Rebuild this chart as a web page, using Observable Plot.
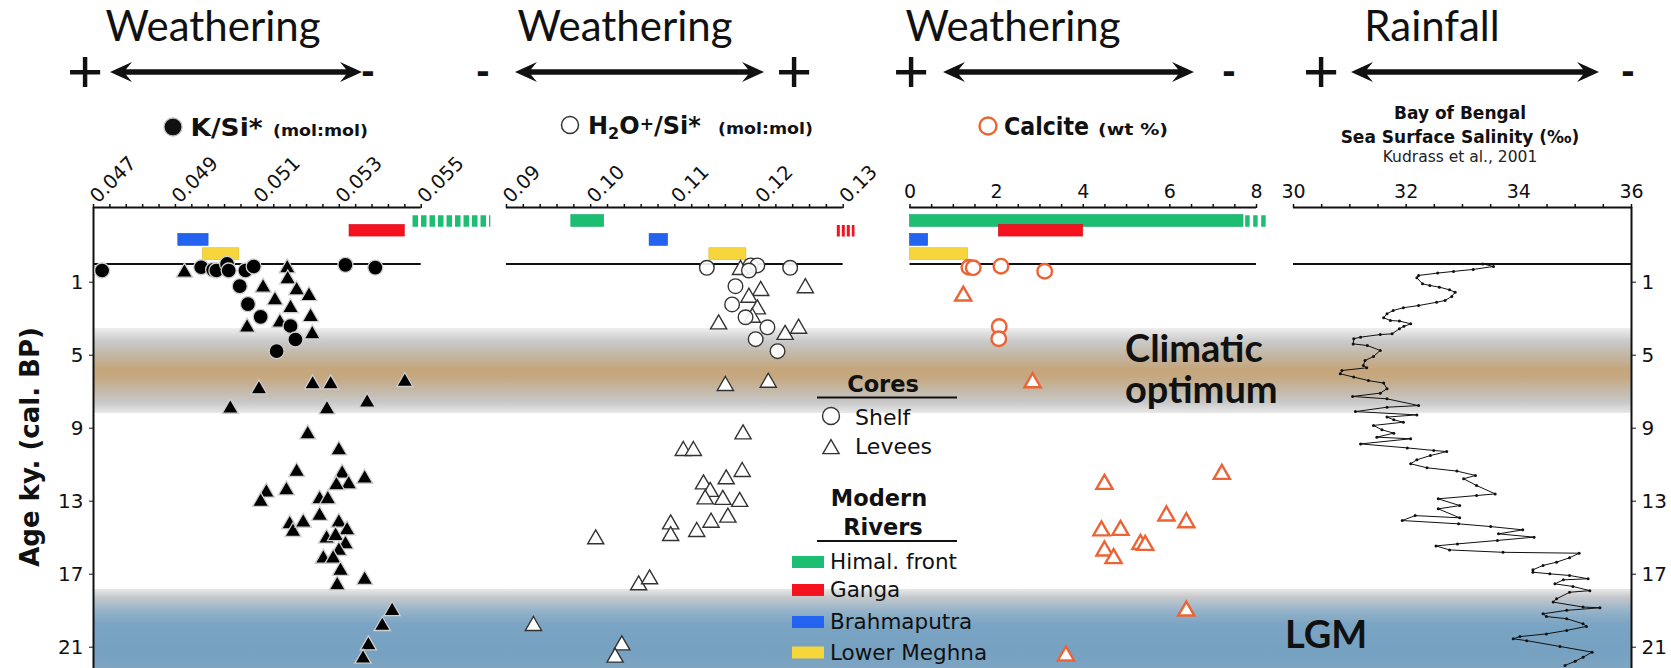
<!DOCTYPE html>
<html><head><meta charset="utf-8">
<script src="https://cdn.jsdelivr.net/npm/d3@7"></script>
<script src="https://cdn.jsdelivr.net/npm/@observablehq/plot@0.6"></script>
<style>
body{margin:0;background:#fff;}
#wrap{position:relative;width:1671px;height:668px;overflow:hidden;background:#fff;}
#wrap svg{position:absolute;left:0;top:0;overflow:visible;}
</style></head><body><div id="wrap"></div>
<script>
// ---------------- DATA ----------------
const ageTicks = [1, 5, 9, 13, 17, 21];

const rivers = ["Himal. front", "Ganga", "Brahmaputra", "Lower Meghna"];
const riverColors = ["#1cbf72", "#f5121f", "#2463ef", "#f7d63c"];

// K/Si* (mol:mol)
const kSiTicks = [0.047, 0.049, 0.051, 0.053, 0.055];
const kSiShelfAge = [0.36, 0.18, 0.32, 0.36, 0.0, 0.36, 0.36, 0.14, 0.05, 0.2, 1.22, 2.2, 2.9, 3.4, 4.14, 4.78];
const kSiShelfVal = [0.04721, 0.04963, 0.04992, 0.05000, 0.05026, 0.05030, 0.05071, 0.05091, 0.05315, 0.05388, 0.05057, 0.05077, 0.05108, 0.05181, 0.05193, 0.05147];
const kSiLeveeAge = [0.36, 0.12, 0.73, 1.18, 1.33, 1.64, 1.88, 2.31, 2.79, 3.1, 3.37, 3.74, 6.75, 6.48, 6.48, 6.35, 7.81, 7.85, 7.48, 9.22, 10.1, 11.28, 11.37, 11.65, 11.96, 12.01, 12.29, 12.41, 12.92, 12.78, 12.78, 13.69, 14.15, 14.57, 14.06, 14.06, 14.48, 14.93, 14.79, 15.25, 15.61, 16.03, 16.03, 16.7, 17.2, 17.49, 18.9, 19.72, 20.78, 21.51];
const kSiLeveeVal = [0.04922, 0.05173, 0.05174, 0.05114, 0.05196, 0.05226, 0.05143, 0.05181, 0.0523, 0.05155, 0.05075, 0.05234, 0.05104, 0.05235, 0.05279, 0.0546, 0.05034, 0.0527, 0.05368, 0.05223, 0.05299, 0.05196, 0.05307, 0.05362, 0.05323, 0.05293, 0.05171, 0.05122, 0.05108, 0.05252, 0.05272, 0.05252, 0.05179, 0.05187, 0.05212, 0.05299, 0.05319, 0.05269, 0.05291, 0.05315, 0.05299, 0.05261, 0.05285, 0.05303, 0.05362, 0.05295, 0.05429, 0.05405, 0.05371, 0.05358];
const kSiRiverLo = [null, 0.05325, 0.04907, 0.04967];
const kSiRiverHi = [null, 0.0546, 0.04981, 0.05056];
const kSiRiverOpenLo = [0.0548, null, null, null];   // range continuing off-scale
const kSiRiverOpenHi = [0.0567, null, null, null];

// H2O+/Si* (mol:mol)
const hSiTicks = [0.09, 0.10, 0.11, 0.12, 0.13];
const hSiShelfAge = [0.21, 0.08, 0.08, 0.36, 0.21, 1.22, 2.22, 2.92, 3.47, 4.12, 4.78];
const hSiShelfVal = [0.1138, 0.1190, 0.1198, 0.1188, 0.1237, 0.1172, 0.1168, 0.1184, 0.1210, 0.1196, 0.1222];
const hSiLeveeAge = [0.21, 1.21, 1.36, 1.73, 2.37, 2.83, 3.19, 3.43, 3.77, 6.57, 6.39, 9.22, 10.13, 10.13, 11.28, 11.68, 11.96, 12.37, 12.78, 12.81, 12.92, 13.78, 14.06, 14.15, 14.79, 14.57, 14.97, 17.49, 17.16, 19.72, 20.78, 21.45];
const hSiLeveeVal = [0.1178, 0.1255, 0.1202, 0.1188, 0.1198, 0.1192, 0.1152, 0.1247, 0.1231, 0.1160, 0.1211, 0.1181, 0.1110, 0.1122, 0.1180, 0.1161, 0.1134, 0.1142, 0.1136, 0.1157, 0.1177, 0.1163, 0.1143, 0.1095, 0.1095, 0.1126, 0.1006, 0.1057, 0.1070, 0.0932, 0.1037, 0.1029];
const hSiRiverLo = [0.0977, null, 0.1070, 0.1141];
const hSiRiverHi = [0.1016, null, 0.1092, 0.1185];
const hSiRiverOpenLo = [null, 0.1293, null, null];
const hSiRiverOpenHi = [null, 0.1314, null, null];

// Calcite (wt %)
const calTicks = [0, 2, 4, 6, 8];
const calShelfAge = [0.18, 0.21, 0.12, 0.40, 3.43, 4.10];
const calShelfVal = [1.36, 1.46, 2.10, 3.11, 2.06, 2.05];
const calLeveeAge = [1.64, 6.39, 11.96, 11.41, 13.69, 14.06, 14.51, 14.48, 15.25, 15.30, 15.61, 16.03, 18.90, 21.36];
const calLeveeVal = [1.23, 2.83, 4.49, 7.2, 5.92, 6.38, 4.42, 4.86, 5.32, 5.43, 4.49, 4.70, 6.38, 3.60];
const calRiverLo = [0, 2.05, 0, 0];
const calRiverHi = [7.7, 4.0, 0.42, 1.34];
const calRiverOpenLo = [7.75, null, null, null];
const calRiverOpenHi = [8.3, null, null, null];

// Bay of Bengal sea surface salinity (Kudrass et al., 2001)
const salTicks = [30, 32, 34, 36];
const salAge = [0.0, 0.14, 0.30, 0.41, 0.50, 0.63, 0.76, 1.09, 1.18, 1.27, 1.42, 1.55, 1.78, 2.0, 2.1, 2.28, 2.4, 2.55, 2.73, 2.95, 3.1, 3.13, 3.28, 3.42, 3.55, 3.83, 3.87, 4.01, 4.1, 4.38, 4.47, 4.74, 5.07, 5.29, 5.56, 5.69, 5.84, 6.02, 6.2, 6.39, 6.53, 6.84, 7.08, 7.26, 7.39, 7.76, 7.85, 8.09, 8.27, 8.39, 8.54, 8.67, 8.85, 9.09, 9.27, 9.49, 9.58, 9.86, 10.08, 10.22, 10.28, 10.5, 10.73, 10.95, 11.17, 11.35, 11.59, 11.77, 12.14, 12.6, 12.69, 12.87, 13.24, 13.42, 13.91, 13.79, 14.06, 14.24, 14.39, 14.57, 14.79, 14.97, 15.15, 15.34, 15.45, 15.67, 15.8, 15.85, 16.1, 16.34, 16.52, 16.76, 16.89, 16.98, 17.07, 17.25, 17.31, 17.53, 17.67, 17.9, 17.99, 18.35, 18.53, 18.8, 18.84, 18.98, 19.17, 19.32, 19.44, 19.72, 19.86, 20.08, 20.27, 20.42, 20.54, 20.64, 20.96, 21.27, 21.55, 21.77, 22.0];
const salVal = [33.36, 33.55, 33.19, 32.84, 32.56, 32.22, 32.19, 32.29, 32.42, 32.59, 32.77, 32.87, 32.81, 32.69, 32.54, 32.22, 31.95, 31.77, 31.66, 31.6, 31.72, 31.88, 32.08, 31.96, 31.88, 31.75, 31.54, 31.19, 31.07, 31.06, 31.31, 31.54, 31.42, 31.27, 31.24, 31.3, 30.86, 30.83, 31.07, 31.33, 31.6, 31.66, 31.54, 31.05, 31.66, 32.22, 31.66, 31.1, 32.19, 31.66, 31.78, 31.95, 31.42, 31.57, 31.78, 31.48, 32.08, 31.19, 32.02, 32.49, 32.72, 32.43, 32.19, 32.08, 32.37, 32.9, 33.23, 33.02, 33.25, 33.58, 33.25, 32.57, 32.95, 32.57, 32.95, 32.16, 31.93, 32.93, 33.5, 34.07, 33.64, 34.27, 33.62, 32.91, 32.53, 32.77, 33.72, 35.07, 34.9, 34.67, 34.43, 34.25, 34.25, 34.55, 34.9, 35.23, 34.79, 34.64, 34.96, 35.26, 34.9, 34.67, 34.61, 35.14, 35.44, 34.85, 34.43, 34.49, 34.85, 35.14, 35.2, 34.85, 34.49, 34.02, 33.9, 34.14, 34.73, 35.3, 35.14, 35.0, 34.82];

// Climate periods (ky BP)
const periodNames = ["Climatic optimum", "LGM"];
const periodStart = [3.54, 17.84];
const periodEnd = [8.19, 22.2];

// ---------------- LAYOUT ----------------
const W = 1671, H = 668;
const yDom = [-3.093, 22.167];
const yRange = [207, 668];
const rowTop = [-2.68, -2.14, -1.65, -0.86];   // river-bar rows above the present-day line
const rowBot = [-2.03, -1.50, -0.99, -0.21];
const orange = "#ec6436";
const ink = "#111";
const wrap = document.getElementById("wrap");
const baseStyle = {background: "transparent", overflow: "visible", fontFamily: "DejaVu Sans", color: ink};

// ---------- background bands ----------
const defsMark = () => {
  const defs = d3.create("svg:defs");
  const g1 = defs.append("linearGradient").attr("id", "gOpt").attr("x1", 0).attr("y1", 0).attr("x2", 0).attr("y2", 1);
  [[0, "#eeeeee"], [0.16, "#c9c9c9"], [0.34, "#c3b49e"], [0.48, "#c5a67d"], [0.58, "#c6a880"], [0.74, "#c4b9a9"], [0.88, "#c9c9c9"], [1, "#e8e8e8"]]
    .forEach(([o, c]) => g1.append("stop").attr("offset", o).attr("stop-color", c));
  const g2 = defs.append("linearGradient").attr("id", "gLGM").attr("x1", 0).attr("y1", 0).attr("x2", 0).attr("y2", 1);
  [[0, "#e8e8e8"], [0.1, "#c6c9cc"], [0.28, "#93b2c9"], [0.45, "#7aa4c3"], [0.8, "#76a1c1"], [1, "#7ea6c3"]]
    .forEach(([o, c]) => g2.append("stop").attr("offset", o).attr("stop-color", c));
  return defs.node();
};
const bg = Plot.plot({
  width: W, height: H, marginTop: yRange[0], marginBottom: 0, marginLeft: 93, marginRight: W - 1631,
  style: baseStyle,
  y: {domain: yDom, range: yRange, axis: null},
  marks: [
    defsMark,
    Plot.rect([0], {y1: i => periodStart[i], y2: i => periodEnd[i], fill: "url(#gOpt)"}),
    Plot.rect([1], {y1: i => periodStart[i], y2: i => periodEnd[i], fill: "url(#gLGM)"})
  ]
});
wrap.appendChild(bg);

// ---------- panels ----------
function riverMarks(lo, hi, olo, ohi, dash) {
  const m = [];
  rivers.forEach((r, i) => {
    if (lo[i] != null) m.push(Plot.rect([i], {x1: j => lo[j], x2: j => hi[j], y1: j => rowTop[j], y2: j => rowBot[j],
      fill: riverColors[i], stroke: d3.color(riverColors[i]).darker(0.4).formatHex(), strokeWidth: 0.6}));
    if (olo[i] != null) m.push(Plot.ruleY([i], {y: j => (rowTop[j] + rowBot[j]) / 2, x1: j => olo[j], x2: j => ohi[j],
      stroke: riverColors[i], strokeWidth: 11.5, strokeDasharray: dash}));
  });
  return m;
}

function panel(o) {
  const marks = [
    Plot.axisX({anchor: "top", ticks: o.minor, tickSize: 4, tickFormat: () => "", label: null, strokeWidth: 1.5}),
    Plot.axisX({anchor: "top", ticks: o.major, tickSize: 0, tickPadding: o.rotate ? 8 : 10, tickRotate: o.rotate || 0,
      tickFormat: o.fmt, fontSize: o.rotate ? 19.5 : 19, label: null}),
    Plot.ruleY([yDom[0]], {stroke: ink, strokeWidth: 2}),
    Plot.ruleY([0], {stroke: ink, strokeWidth: 2}),
    ...o.rivers,
    ...o.extra
  ];
  return Plot.plot({
    width: W, height: H, marginTop: yRange[0], marginBottom: 0,
    marginLeft: o.range[0], marginRight: W - o.range[1],
    style: baseStyle,
    x: {domain: o.domain, range: o.range},
    y: o.yAxis ? {domain: yDom, range: yRange} : {domain: yDom, range: yRange, axis: null},
    marks
  });
}
const idx = a => a.map((_, i) => i);

// Panel 1: K/Si*
wrap.appendChild(panel({
  domain: [0.047, 0.055], range: [93, 420.7], yAxis: true,
  minor: d3.range(21).map(i => 0.047 + i * 0.0004), major: kSiTicks, fmt: d3.format(".3f"), rotate: -45,
  rivers: riverMarks(kSiRiverLo, kSiRiverHi, kSiRiverOpenLo, kSiRiverOpenHi, "5.5,3"),
  extra: [
    Plot.ruleX([0.047], {stroke: ink, strokeWidth: 2}),
    Plot.axisY({anchor: "left", ticks: ageTicks, tickSize: 4, tickPadding: 6, fontSize: 20, label: null}),
    Plot.dot(idx(kSiLeveeAge), {x: i => kSiLeveeVal[i], y: i => kSiLeveeAge[i], symbol: "triangle", r: 6, dy: 2, fill: "#000", stroke: "#cfcfcf", strokeWidth: 1.3}),
    Plot.dot(idx(kSiShelfAge), {x: i => kSiShelfVal[i], y: i => kSiShelfAge[i], r: 7.5, fill: "#000", stroke: "#cfcfcf", strokeWidth: 1.3})
  ]
}));

// Panel 2: H2O+/Si*
wrap.appendChild(panel({
  domain: [0.09, 0.13], range: [506, 842.7],
  minor: d3.range(21).map(i => 0.09 + i * 0.002), major: hSiTicks, fmt: d3.format(".2f"), rotate: -45,
  rivers: riverMarks(hSiRiverLo, hSiRiverHi, hSiRiverOpenLo, hSiRiverOpenHi, "3,2"),
  extra: [
    Plot.dot(idx(hSiLeveeAge), {x: i => hSiLeveeVal[i], y: i => hSiLeveeAge[i], symbol: "triangle", r: 6, dy: 2, fill: "#fff", stroke: "#333", strokeWidth: 1.4}),
    Plot.dot(idx(hSiShelfAge), {x: i => hSiShelfVal[i], y: i => hSiShelfAge[i], r: 7.3, fill: "#fff", fillOpacity: 0.9, stroke: "#333", strokeWidth: 1.4})
  ]
}));

// Panel 3: Calcite
wrap.appendChild(panel({
  domain: [0, 8], range: [909.5, 1256],
  minor: d3.range(17).map(i => i * 0.5), major: calTicks, fmt: d3.format("d"), rotate: 0,
  rivers: riverMarks(calRiverLo, calRiverHi, calRiverOpenLo, calRiverOpenHi, "4.5,3.5"),
  extra: [
    Plot.dot(idx(calLeveeAge), {x: i => calLeveeVal[i], y: i => calLeveeAge[i], symbol: "triangle", r: 6, dy: 2, fill: "#fff", stroke: orange, strokeWidth: 2.4}),
    Plot.dot(idx(calShelfAge), {x: i => calShelfVal[i], y: i => calShelfAge[i], r: 7.3, fill: "#fff", stroke: orange, strokeWidth: 2.4})
  ]
}));

// Panel 4: salinity
wrap.appendChild(panel({
  domain: [30, 36], range: [1293, 1631], yAxis: true,
  minor: d3.range(13).map(i => 30 + i * 0.5), major: salTicks, fmt: d3.format("d"), rotate: 0,
  rivers: [],
  extra: [
    Plot.ruleX([36], {stroke: ink, strokeWidth: 2}),
    Plot.axisY({anchor: "right", ticks: ageTicks, tickSize: 4, tickPadding: 6, fontSize: 20, label: null}),
    Plot.line(idx(salAge), {x: i => salVal[i], y: i => salAge[i], stroke: "#111", strokeWidth: 1}),
    Plot.dot(idx(salAge), {x: i => salVal[i], y: i => salAge[i], r: 1.5, fill: "#111"})
  ]
}));

// ---------- annotations, titles, legend ----------
const ov = d3.create("svg").attr("width", W).attr("height", H);
function T(x, y, txt, o = {}) {
  const t = ov.append("text").attr("x", x).attr("y", y).text(txt)
    .attr("font-family", o.ff || "DejaVu Sans").attr("font-size", o.fs || 20)
    .attr("font-weight", o.fw || "normal").attr("text-anchor", o.anchor || "start")
    .attr("fill", o.fill || ink);
  if (o.len) t.attr("textLength", o.len).attr("lengthAdjust", "spacingAndGlyphs");
  return t;
}
// top titles
[["Weathering", 213], ["Weathering", 625], ["Weathering", 1013], ["Rainfall", 1432]]
  .forEach(([t, x]) => T(x, 41, t, {ff: "Lato", fs: 42, anchor: "middle"}));
// +/- signs
[["+", 85], ["-", 368], ["-", 483], ["+", 794], ["+", 911], ["-", 1229], ["+", 1321], ["-", 1628]]
  .forEach(([s, x]) => s === "+" ? T(x, 92, s, {ff: "Liberation Sans", fs: 62, anchor: "middle"})
                                 : T(x, 84, s, {ff: "Liberation Sans", fs: 40, fw: "bold", anchor: "middle"}));
// double arrows
[[110, 362], [515, 764], [943, 1194], [1351, 1599]].forEach(([a, b]) => {
  const y = 72, L = 22, hw = 10, sw = 2.8, n = 16;
  ov.append("path").attr("fill", ink).attr("d",
    `M${a},${y} L${a + L},${y - hw} L${a + n},${y - sw} L${b - n},${y - sw} L${b - L},${y - hw} L${b},${y} L${b - L},${y + hw} L${b - n},${y + sw} L${a + n},${y + sw} L${a + L},${y + hw} Z`);
});
// panel subtitles
ov.append("circle").attr("cx", 173).attr("cy", 127).attr("r", 9).attr("fill", "#111").attr("stroke", "#bbb").attr("stroke-width", 1.3);
T(190.5, 136, "K/Si*", {fs: 24, fw: "bold", len: 72});
T(273, 136, "(mol:mol)", {fs: 16.5, fw: "bold", len: 95});

ov.append("circle").attr("cx", 570).attr("cy", 125).attr("r", 8.5).attr("fill", "#fff").attr("stroke", "#333").attr("stroke-width", 1.5);
const h2o = T(588, 134, "", {fs: 24, fw: "bold"});
h2o.append("tspan").text("H");
h2o.append("tspan").attr("font-size", 16).attr("dy", 5).text("2");
h2o.append("tspan").attr("dy", -5).text("O");
h2o.append("tspan").attr("font-size", 17).attr("dy", -4).text("+");
h2o.append("tspan").attr("dy", 4).text("/Si*");
T(718, 134, "(mol:mol)", {fs: 16.5, fw: "bold", len: 95});

ov.append("circle").attr("cx", 988).attr("cy", 126).attr("r", 8.5).attr("fill", "#fff").attr("stroke", orange).attr("stroke-width", 2.4);
T(1004, 135, "Calcite", {fs: 24, fw: "bold", len: 85});
T(1098, 135, "(wt %)", {fs: 16.5, fw: "bold", len: 70});

T(1460, 119, "Bay of Bengal", {fs: 17, fw: "bold", anchor: "middle"});
T(1460, 143, "Sea Surface Salinity (‰)", {fs: 17, fw: "bold", anchor: "middle"});
T(1460, 162, "Kudrass et al., 2001", {fs: 15.5, anchor: "middle", fill: "#222"});

// y-axis title
T(0, 0, "Age ky. (cal. BP)", {fs: 26, fw: "bold", anchor: "middle"})
  .attr("transform", "translate(39,447) rotate(-90)");

// period labels
T(1125, 362, "Climatic", {ff: "Lato", fs: 38, fw: "bold"});
T(1125, 403, "optimum", {ff: "Lato", fs: 38, fw: "bold"});
T(1285, 648, "LGM", {ff: "Lato", fs: 38, fw: "bold"});

// legend
T(883, 392, "Cores", {fs: 22.5, fw: "bold", anchor: "middle"});
ov.append("line").attr("x1", 817).attr("x2", 957).attr("y1", 397.5).attr("y2", 397.5).attr("stroke", ink).attr("stroke-width", 2);
ov.append("circle").attr("cx", 831).attr("cy", 416).attr("r", 8.5).attr("fill", "#fff").attr("stroke", "#333").attr("stroke-width", 1.4);
T(855, 425, "Shelf", {fs: 22});
ov.append("path").attr("d", d3.symbol(d3.symbolTriangle, Math.PI * 36)()).attr("transform", "translate(831,449)")
  .attr("fill", "#fff").attr("stroke", "#333").attr("stroke-width", 1.4);
T(855, 454, "Levees", {fs: 22});
T(879, 506, "Modern", {fs: 22.5, fw: "bold", anchor: "middle"});
T(883, 535, "Rivers", {fs: 22.5, fw: "bold", anchor: "middle"});
ov.append("line").attr("x1", 817).attr("x2", 957).attr("y1", 541).attr("y2", 541).attr("stroke", ink).attr("stroke-width", 2);
const legY = [562, 590, 622, 652.5];
rivers.forEach((r, i) => {
  ov.append("rect").attr("x", 792).attr("y", legY[i] - 6).attr("width", 32).attr("height", 12).attr("fill", riverColors[i]);
  T(830, legY[i] + 7, r, {fs: 21.5});
});
wrap.appendChild(ov.node());
</script></body></html>
